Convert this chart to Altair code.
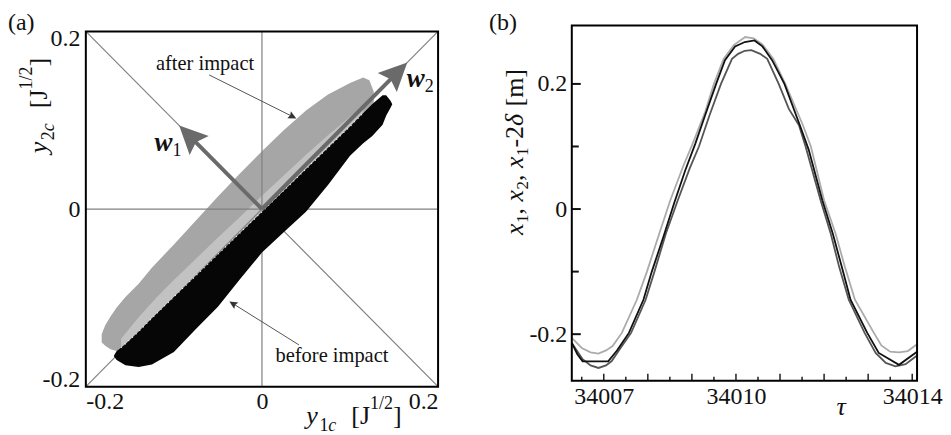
import altair as alt
import pandas as pd

FONT = "Liberation Serif"
CLOUD_GRAY = "#a6a6a6"
CLOUD_BLACK = "#060606"
REF_GRAY = "#808080"
ARROW_GRAY = "#6a6a6a"
NOTE_GRAY = "#555555"

# ---------------- panel (a): point clouds (boundaries) ----------------
gray_x = [-0.182, -0.178, -0.172, -0.165, -0.155, -0.14, -0.125, -0.10, -0.075, -0.05,
          -0.025, 0.0, 0.025, 0.05, 0.075, 0.10, 0.115, 0.122, 0.127]
gray_top = [-0.141, -0.131, -0.121, -0.111, -0.099, -0.084, -0.066, -0.040, -0.013, 0.014,
            0.040, 0.065, 0.089, 0.111, 0.129, 0.142, 0.148, 0.145, 0.132]
gray_bottom = [-0.150, -0.154, -0.158, -0.160, -0.152, -0.138, -0.123, -0.099, -0.075, -0.051,
               -0.027, -0.003, 0.021, 0.045, 0.069, 0.093, 0.108, 0.115, 0.120]

black_x = [-0.168, -0.165, -0.155, -0.14, -0.125, -0.10, -0.075, -0.05, -0.025, 0.0,
           0.025, 0.05, 0.075, 0.10, 0.115, 0.125, 0.137, 0.141, 0.146, 0.148]
black_top = [-0.165, -0.160, -0.152, -0.138, -0.123, -0.099, -0.075, -0.051, -0.027, -0.003,
             0.021, 0.045, 0.069, 0.093, 0.108, 0.118, 0.128, 0.128, 0.122, 0.118]
black_bottom = [-0.166, -0.170, -0.176, -0.178, -0.175, -0.161, -0.135, -0.110, -0.079, -0.049,
                -0.026, -0.003, 0.027, 0.060, 0.074, 0.082, 0.095, 0.105, 0.114, 0.118]

# lighter speckled band between the two clouds
speck_x = [-0.16, -0.14, -0.12, -0.10, -0.075, -0.05, -0.025, 0.0, 0.025, 0.05, 0.075, 0.10, 0.115]
speck_lo = [-0.156, -0.138, -0.118, -0.099, -0.075, -0.051, -0.027, -0.003, 0.021, 0.045, 0.069, 0.093, 0.108]
speck_hi = [-0.146, -0.122, -0.100, -0.080, -0.056, -0.032, -0.009, 0.015, 0.038, 0.061, 0.083, 0.104, 0.116]

# reference lines: two diagonals and the axes through the origin
ref_x1 = [-0.2, -0.2, -0.2, 0.0]
ref_y1 = [-0.2, 0.2, 0.0, -0.2]
ref_x2 = [0.2, 0.2, 0.2, 0.0]
ref_y2 = [0.2, -0.2, 0.0, 0.2]

# eigen-direction arrows w1, w2
vec_main = ["w", "w"]
vec_sub = ["1", "2"]
vec_origin = [0.0, 0.0]
vec_tip_x = [-0.094, 0.165]
vec_tip_y = [0.094, 0.165]
vec_shaft_x = [-0.082, 0.153]
vec_shaft_y = [0.082, 0.153]
vec_angle = [315, 45]
vec_label_x = [-0.122, 0.1644]
vec_label_y = [0.065, 0.137]

# annotations
note_text = ["after impact", "before impact"]
note_x = [-0.0646, 0.0795]
note_y = [0.156, -0.1727]
note_from_x = [-0.060, 0.042]
note_from_y = [0.151, -0.153]
note_end_x = [0.035, -0.033]
note_end_y = [0.104, -0.1065]
note_tip_x = [0.039, -0.037]
note_tip_y = [0.102, -0.104]
note_angle = [117, 302]

a_ticks = [-0.2, 0.0, 0.2]

# ---------------- panel (b): time histories ----------------
tau_black = [34006.274, 34006.40, 34006.52, 34007.10, 34007.30, 34007.57, 34007.90, 34008.09,
             34008.35, 34008.60, 34008.85, 34009.08, 34009.30, 34009.55, 34009.75, 34009.98,
             34010.20, 34010.42, 34010.60, 34010.82, 34011.10, 34011.45, 34011.65, 34011.96,
             34012.20, 34012.40, 34012.60, 34012.98, 34013.24, 34013.70, 34014.11]
val_black = [-0.214, -0.232, -0.2435, -0.2435, -0.226, -0.198, -0.145, -0.100,
             -0.045, 0.010, 0.062, 0.105, 0.150, 0.200, 0.238, 0.260,
             0.267, 0.2695, 0.260, 0.238, 0.200, 0.134, 0.095, 0.014,
             -0.040, -0.092, -0.145, -0.198, -0.230, -0.249, -0.228]

tau_light = [34006.274, 34006.50, 34006.70, 34006.88, 34007.05, 34007.20, 34007.41, 34007.75,
             34007.98, 34008.26, 34008.51, 34008.80, 34009.02, 34009.30, 34009.50, 34009.72,
             34009.95, 34010.21, 34010.40, 34010.60, 34010.85, 34011.12, 34011.52, 34011.70,
             34012.00, 34012.26, 34012.47, 34012.70, 34013.13, 34013.30, 34013.50, 34013.70,
             34013.90, 34014.11]
val_light = [-0.206, -0.222, -0.229, -0.231, -0.226, -0.219, -0.198, -0.145,
             -0.100, -0.039, 0.014, 0.068, 0.105, 0.155, 0.200, 0.240,
             0.262, 0.275, 0.273, 0.263, 0.240, 0.200, 0.134, 0.100,
             0.014, -0.039, -0.092, -0.145, -0.198, -0.218, -0.228, -0.229,
             -0.227, -0.216]

tau_dark = [34006.274, 34006.52, 34006.70, 34006.88, 34007.05, 34007.18, 34007.40, 34007.62,
            34007.95, 34008.15, 34008.41, 34008.68, 34008.95, 34009.16, 34009.40, 34009.66,
            34009.91, 34010.05, 34010.20, 34010.35, 34010.55, 34010.71, 34010.97, 34011.20,
            34011.43, 34011.58, 34011.92, 34012.15, 34012.34, 34012.56, 34012.92, 34013.17,
            34013.40, 34013.62, 34013.85, 34014.11]
val_dark = [-0.214, -0.240, -0.250, -0.254, -0.250, -0.243, -0.220, -0.198,
            -0.145, -0.100, -0.039, 0.014, 0.065, 0.100, 0.150, 0.200,
            0.240, 0.248, 0.253, 0.254, 0.248, 0.240, 0.200, 0.160,
            0.134, 0.100, 0.014, -0.039, -0.092, -0.145, -0.198, -0.230,
            -0.246, -0.2515, -0.248, -0.234]

b_xlabels = [34007, 34010, 34014]
b_xticks_major = [34007, 34008, 34009, 34010, 34011, 34012, 34013, 34014]
b_xticks_minor = [34006.5, 34007.5, 34008.5, 34009.5, 34010.5, 34011.5, 34012.5, 34013.5]
b_yticks_major = [-0.2, 0.0, 0.2]
b_yticks_minor = [-0.1, 0.1]

# ---------------- layout (pixels inside the shared plot area) ----------------
W, H = 833, 362
A_X0, A_X1, A_Y0, A_Y1 = 0, 353, 6, 362       # panel (a) box
B_X0, B_X1, B_Y0, B_Y1 = 487, 833, 0, 356     # panel (b) box

# ---------------- helpers ----------------
ADV_REG = {",": 0.25, " ": 0.25, "-": 0.333, "[": 0.333, "]": 0.333, "J": 0.389,
           "m": 0.778, "/": 0.278, ".": 0.25}
ADV_IT = {"x": 0.444, "y": 0.444, "c": 0.444, "δ": 0.5}


def advance(s, size, italic):
    tbl = ADV_IT if italic else ADV_REG
    return sum(tbl.get(ch, 0.5) for ch in s) * size


def title_layers(pieces, start, base, rotated):
    layers = []
    pos = 0.0
    for txt, size, italic, shift, gap in pieces:
        pos += gap
        if rotated:
            px, py, ang = base + shift, start - pos, 270
        else:
            px, py, ang = start + pos, base + shift, 0
        layers.append(
            alt.Chart(pd.DataFrame({"t": [txt]})).mark_text(
                font=FONT, fontSize=size, fontStyle="italic" if italic else "normal",
                align="left", baseline="alphabetic", angle=ang, color="#111111"
            ).encode(x=alt.value(px), y=alt.value(py), text="t:N")
        )
        pos += advance(txt, size, italic)
    return layers


def plain_text(txt, px, py, size, italic=False, align="left"):
    return alt.Chart(pd.DataFrame({"t": [txt]})).mark_text(
        font=FONT, fontSize=size, fontStyle="italic" if italic else "normal",
        align=align, baseline="alphabetic", color="#111111"
    ).encode(x=alt.value(px), y=alt.value(py), text="t:N")


def invisible(px, py):
    return alt.Chart(pd.DataFrame({"d": [0]})).mark_rule(strokeOpacity=0, opacity=0).encode(
        x=alt.value(px), x2=alt.value(px), y=alt.value(py), y2=alt.value(py + 1))


def frame(x0, x1, y0, y1):
    return alt.Chart(pd.DataFrame({"d": [0]})).mark_rect(
        filled=False, fillOpacity=0, stroke="#000000", strokeWidth=2
    ).encode(x=alt.value(x0), x2=alt.value(x1), y=alt.value(y0), y2=alt.value(y1))


LABEL_EXPR = ("datum.value < 0 ? '-' + format(-datum.value, '.1f') : "
              "(datum.value == 0 ? '0' : format(datum.value, '.1f'))")
ARROW_PATH = "M0,0 L-1,2.1 L0,1.75 L1,2.1 Z"
LBL = dict(labelFont=FONT, labelFontSize=24, labelColor="#111111", ticks=False, tickSize=0,
           domain=False, grid=False, title=None)

# ---------------- panel (a) ----------------
xa = alt.Scale(domain=[-0.2, 0.2], nice=False, zero=False, range=[A_X0, A_X1])
ya = alt.Scale(domain=[-0.2, 0.2], nice=False, zero=False, range=[A_Y1, A_Y0])
ax_ax = alt.Axis(values=a_ticks, labelExpr=LABEL_EXPR, orient="bottom", labelPadding=3, **LBL)
ax_ay = alt.Axis(values=a_ticks, labelExpr=LABEL_EXPR, orient="left", labelPadding=6,
                 labelFlush=True, labelFlushOffset=5, **LBL)


def XA(f, axis=None):
    return alt.X(f, scale=xa, axis=axis, title=None)


def YA(f, axis=None):
    return alt.Y(f, scale=ya, axis=axis, title=None)


df_gray = pd.DataFrame({"x": gray_x, "top": gray_top, "bot": gray_bottom})
df_black = pd.DataFrame({"x": black_x, "top": black_top, "bot": black_bottom})
df_speck = pd.DataFrame({"x": speck_x, "lo": speck_lo, "hi": speck_hi})
df_ref = pd.DataFrame({"x1": ref_x1, "y1": ref_y1, "x2": ref_x2, "y2": ref_y2})
df_vec = pd.DataFrame({"ox": vec_origin, "oy": vec_origin, "sx": vec_shaft_x, "sy": vec_shaft_y,
                       "tx": vec_tip_x, "ty": vec_tip_y, "ang": vec_angle,
                       "lx": vec_label_x, "ly": vec_label_y, "m": vec_main, "s": vec_sub})
df_note = pd.DataFrame({"t": note_text, "x": note_x, "y": note_y, "fx": note_from_x,
                        "fy": note_from_y, "ex": note_end_x, "ey": note_end_y,
                        "tx": note_tip_x, "ty": note_tip_y, "ang": note_angle})

gray = alt.Chart(df_gray).mark_area(color=CLOUD_GRAY, opacity=1).encode(
    x=XA("x:Q", ax_ax), y=YA("top:Q", ax_ay), y2="bot:Q")
speck = alt.Chart(df_speck).mark_area(color="#c2c2c2", opacity=1).encode(
    x=XA("x:Q"), y=YA("hi:Q"), y2="lo:Q")
refl = alt.Chart(df_ref).mark_rule(color=REF_GRAY, strokeWidth=1.2).encode(
    x=XA("x1:Q"), y=YA("y1:Q"), x2="x2:Q", y2="y2:Q")
black = alt.Chart(df_black).mark_area(color=CLOUD_BLACK, opacity=1).encode(
    x=XA("x:Q"), y=YA("top:Q"), y2="bot:Q")
speck_dots = alt.Chart(df_speck).mark_line(color="white", strokeWidth=1.2,
                                           strokeDash=[1, 4]).encode(
    x=XA("x:Q"), y=YA("lo:Q"))
shafts = alt.Chart(df_vec).mark_rule(color=ARROW_GRAY, strokeWidth=4).encode(
    x=XA("ox:Q"), y=YA("oy:Q"), x2="sx:Q", y2="sy:Q")
heads = alt.Chart(df_vec).mark_point(shape=ARROW_PATH, size=729, filled=True, opacity=1,
                                     color=ARROW_GRAY, strokeWidth=0).encode(
    x=XA("tx:Q"), y=YA("ty:Q"), angle=alt.Angle("ang:Q", scale=None))
vec_main_lbl = alt.Chart(df_vec).mark_text(font=FONT, fontSize=27, fontStyle="italic",
                                           fontWeight="bold", align="left",
                                           baseline="alphabetic", color="#111111").encode(
    x=XA("lx:Q"), y=YA("ly:Q"), text="m:N")
vec_sub_lbl = alt.Chart(df_vec).mark_text(font=FONT, fontSize=18, align="left", dx=18, dy=5,
                                          baseline="alphabetic", color="#111111").encode(
    x=XA("lx:Q"), y=YA("ly:Q"), text="s:N")
note_lbl = alt.Chart(df_note).mark_text(font=FONT, fontSize=20.5, align="center",
                                        baseline="alphabetic", color="#111111").encode(
    x=XA("x:Q"), y=YA("y:Q"), text="t:N")
note_line = alt.Chart(df_note).mark_rule(color=NOTE_GRAY, strokeWidth=1).encode(
    x=XA("fx:Q"), y=YA("fy:Q"), x2="ex:Q", y2="ey:Q")
note_head = alt.Chart(df_note).mark_point(shape=ARROW_PATH, size=60, filled=True, opacity=1,
                                          color="#333333", strokeWidth=0).encode(
    x=XA("tx:Q"), y=YA("ty:Q"), angle=alt.Angle("ang:Q", scale=None))

a_title_pieces = [("y", 26, True, 0, 0), ("1", 18, False, 7, 1.5), ("c", 18, True, 7, 0),
                  ("[J", 26, False, 0, 15), ("1/2", 18, False, -15, 0), ("]", 26, False, 0, 0)]
a_y_title_pieces = [("y", 26, True, 0, 0), ("2", 18, False, 7, 1.5), ("c", 18, True, 7, 0),
                    ("[J", 26, False, 0, 15), ("1/2", 18, False, -15, 0), ("]", 26, False, 0, 0)]

# ---------------- panel (b) ----------------
xb = alt.Scale(domain=[34006.274, 34014.11], nice=False, zero=False, range=[B_X0, B_X1])
yb = alt.Scale(domain=[-0.2743, 0.2935], nice=False, zero=False, range=[B_Y1, B_Y0])
ax_bx = alt.Axis(values=b_xlabels, format="d", orient="bottom", offset=B_Y1 - H,
                 labelPadding=4, **LBL)
ax_by = alt.Axis(values=b_yticks_major, labelExpr=LABEL_EXPR, orient="left", offset=-B_X0,
                 labelPadding=5, **LBL)


def XB(f, axis=None):
    return alt.X(f, scale=xb, axis=axis, title=None)


def YB(f, axis=None):
    return alt.Y(f, scale=yb, axis=axis, title=None)


df_light = pd.DataFrame({"t": tau_light, "v": val_light})
df_dark = pd.DataFrame({"t": tau_dark, "v": val_dark})
df_blk = pd.DataFrame({"t": tau_black, "v": val_black})

line_light = alt.Chart(df_light).mark_line(color="#ababab", strokeWidth=1.8).encode(
    x=XB("t:Q", ax_bx), y=YB("v:Q", ax_by))
line_dark = alt.Chart(df_dark).mark_line(color="#555555", strokeWidth=1.8).encode(
    x=XB("t:Q"), y=YB("v:Q"))
line_black = alt.Chart(df_blk).mark_line(color="#111111", strokeWidth=1.8).encode(
    x=XB("t:Q"), y=YB("v:Q"))

tick_xM = alt.Chart(pd.DataFrame({"t": b_xticks_major})).mark_rule(color="#111111",
                                                                   strokeWidth=1.4).encode(
    x=XB("t:Q"), y=alt.value(B_Y1), y2=alt.value(B_Y1 - 7))
tick_xm = alt.Chart(pd.DataFrame({"t": b_xticks_minor})).mark_rule(color="#111111",
                                                                   strokeWidth=1.4).encode(
    x=XB("t:Q"), y=alt.value(B_Y1), y2=alt.value(B_Y1 - 4))
tick_yM = alt.Chart(pd.DataFrame({"v": b_yticks_major})).mark_rule(color="#111111",
                                                                   strokeWidth=2).encode(
    y=YB("v:Q"), x=alt.value(B_X0), x2=alt.value(B_X0 + 9))
tick_ym = alt.Chart(pd.DataFrame({"v": b_yticks_minor})).mark_rule(color="#111111",
                                                                   strokeWidth=2).encode(
    y=YB("v:Q"), x=alt.value(B_X0), x2=alt.value(B_X0 + 7))

b_y_title_pieces = [("x", 26, True, 0, 0), ("1", 17, False, 5, 0.5), (",", 26, False, 0, 0),
                    ("x", 26, True, 0, 6.5), ("2", 17, False, 5, 0.5), (",", 26, False, 0, 0),
                    ("x", 26, True, 0, 6.5), ("1", 17, False, 5, 0.5), ("-2", 26, False, 0, 0),
                    ("δ", 26, True, 0, 0), ("[m]", 26, False, 0, 6.5)]

# ---------------- assemble ----------------
layers = [gray, speck, refl, black, speck_dots, shafts, heads, vec_main_lbl, vec_sub_lbl,
          note_line, note_head, note_lbl, frame(A_X0, A_X1, A_Y0, A_Y1)]
layers += title_layers(a_title_pieces, A_X0 + 221, A_Y0 + 393, rotated=False)
layers += title_layers(a_y_title_pieces, A_Y0 + 122, A_X0 - 39, rotated=True)
layers += [plain_text("(a)", A_X0 - 78, 5, 24)]

layers += [line_light, line_dark, line_black, tick_xM, tick_xm, tick_yM, tick_ym,
           frame(B_X0, B_X1, B_Y0, B_Y1)]
layers += title_layers(b_y_title_pieces, B_Y0 + 210, B_X0 - 49, rotated=True)
layers += [plain_text("τ", B_X0 + 270, B_Y0 + 390, 26, italic=True, align="center"),
           plain_text("(b)", B_X0 - 83, 5, 24),
           invisible(-78, -17)]

chart = alt.layer(*layers).resolve_scale(
    x="independent", y="independent"
).resolve_axis(
    x="independent", y="independent"
).properties(width=W, height=H, padding=0).configure_view(stroke=None)

chart.save("out.html", embed_options={"renderer": "svg", "actions": False})
